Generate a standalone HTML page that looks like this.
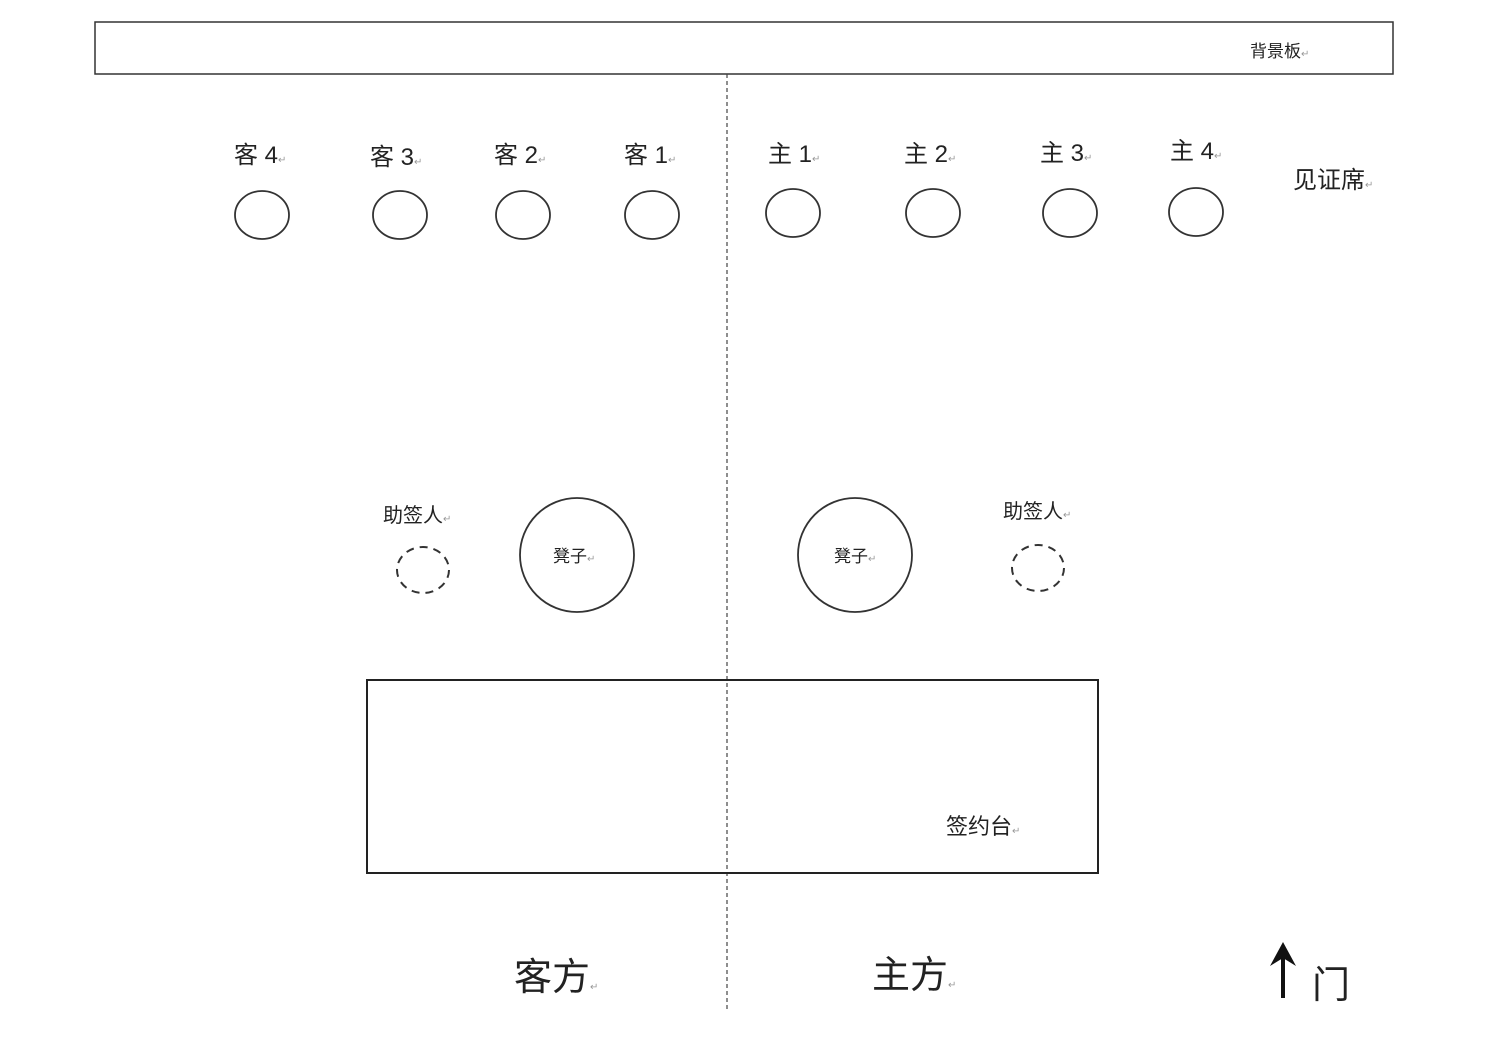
<!DOCTYPE html>
<html><head><meta charset="utf-8"><style>
html,body{margin:0;padding:0;background:#fff;}
text{font-family:"Liberation Sans","Noto Sans CJK SC",sans-serif;fill:#222;}
.r{fill:#999;font-size:10px;}
</style></head><body>
<svg width="1495" height="1033" viewBox="0 0 1495 1033" xmlns="http://www.w3.org/2000/svg">
<rect x="95" y="22" width="1298" height="52" fill="none" stroke="#333" stroke-width="1.5"/>
<text x="1250" y="57" font-size="17">背景板<tspan class="r">↵</tspan></text>
<line x1="727" y1="74" x2="727" y2="1010" stroke="#444" stroke-width="1.2" stroke-dasharray="4,3"/>
<g font-size="24">
<text x="234" y="163">客 4<tspan class="r">↵</tspan></text>
<text x="370" y="165">客 3<tspan class="r">↵</tspan></text>
<text x="494" y="163">客 2<tspan class="r">↵</tspan></text>
<text x="624" y="163">客 1<tspan class="r">↵</tspan></text>
<text x="768" y="162">主 1<tspan class="r">↵</tspan></text>
<text x="904" y="162">主 2<tspan class="r">↵</tspan></text>
<text x="1040" y="161">主 3<tspan class="r">↵</tspan></text>
<text x="1170" y="159">主 4<tspan class="r">↵</tspan></text>
<text x="1293" y="188">见证席<tspan class="r">↵</tspan></text>
</g>
<g fill="none" stroke="#333" stroke-width="1.8">
<ellipse cx="262" cy="215" rx="27" ry="24"/>
<ellipse cx="400" cy="215" rx="27" ry="24"/>
<ellipse cx="523" cy="215" rx="27" ry="24"/>
<ellipse cx="652" cy="215" rx="27" ry="24"/>
<ellipse cx="793" cy="213" rx="27" ry="24"/>
<ellipse cx="933" cy="213" rx="27" ry="24"/>
<ellipse cx="1070" cy="213" rx="27" ry="24"/>
<ellipse cx="1196" cy="212" rx="27" ry="24"/>
<circle cx="577" cy="555" r="57"/>
<circle cx="855" cy="555" r="57"/>
<ellipse cx="423" cy="570" rx="26" ry="23" stroke-dasharray="8,6" stroke-width="2"/>
<ellipse cx="1038" cy="568" rx="26" ry="23" stroke-dasharray="8,6" stroke-width="2"/>
</g>
<g font-size="20">
<text x="383" y="522">助签人<tspan class="r">↵</tspan></text>
<text x="1003" y="518">助签人<tspan class="r">↵</tspan></text>
</g>
<g font-size="17">
<text x="553" y="562">凳子<tspan class="r">↵</tspan></text>
<text x="834" y="562">凳子<tspan class="r">↵</tspan></text>
</g>
<rect x="367" y="680" width="731" height="193" fill="none" stroke="#222" stroke-width="2"/>
<text x="946" y="834" font-size="22">签约台<tspan class="r">↵</tspan></text>
<g font-size="38">
<text x="514" y="990">客方<tspan class="r">↵</tspan></text>
<text x="872" y="988">主方<tspan class="r">↵</tspan></text>
<text x="1312" y="998">门</text>
</g>
<line x1="1283" y1="998" x2="1283" y2="955" stroke="#111" stroke-width="4"/>
<polygon points="1270,966 1283,942 1296,966 1283,958" fill="#111"/>
</svg>
</body></html>
